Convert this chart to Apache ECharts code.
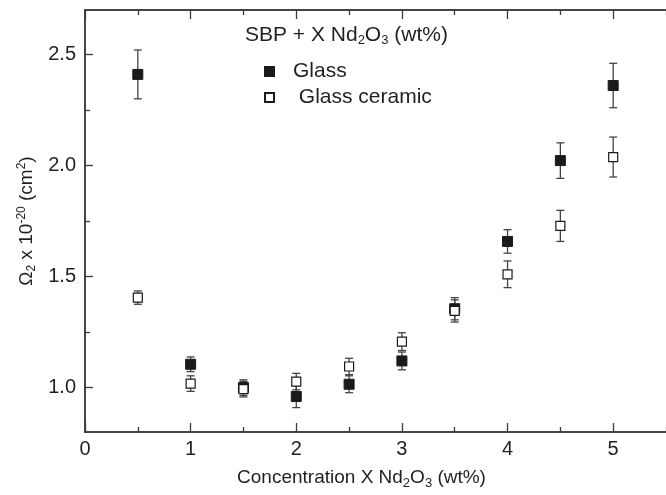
<!DOCTYPE html>
<html><head><meta charset="utf-8">
<script src="https://cdn.jsdelivr.net/npm/echarts@6/dist/echarts.min.js"></script>
<style>html,body{margin:0;padding:0;background:#fff}#c{width:666px;height:495px}</style>
</head><body><div id="c"></div>
<script>
const xVals = [0.5, 1, 1.5, 2, 2.5, 3, 3.5, 4, 4.5, 5];
const glassVals = [2.41, 1.105, 1.00, 0.96, 1.015, 1.12, 1.355, 1.658, 2.022, 2.36];
const glassErr = [0.11, 0.033, 0.035, 0.05, 0.038, 0.04, 0.05, 0.053, 0.08, 0.10];
const gcVals = [1.405, 1.018, 0.993, 1.027, 1.095, 1.207, 1.345, 1.51, 1.728, 2.038];
const gcErr = [0.03, 0.035, 0.035, 0.037, 0.037, 0.04, 0.05, 0.06, 0.07, 0.09];
const xMajorTicks = [0, 1, 2, 3, 4, 5];
const xMinorTicks = [0.5, 1.5, 2.5, 3.5, 4.5, 5.5];
const yMajorTicks = [1.0, 1.5, 2.0, 2.5];
const yMinorTicks = [1.25, 1.75, 2.25];

const txt = '#231f20';
const axisCol = '#3a3a3a';
const font = 'Liberation Sans, Arial, sans-serif';
const sub = {fontSize: 13, fontFamily: font, color: txt, padding: [11, 0, 0, 0]};
const sup = {fontSize: 12, fontFamily: font, color: txt, padding: [0, 0, 10, 0]};

function xAxisDef(pos, ticks, len, showLabel, extra) {
  return Object.assign({
    type: 'value', position: pos, min: 0, max: 5.5,
    axisLine: {show: true, onZero: false, lineStyle: {color: axisCol, width: 1.5}},
    axisTick: {show: true, inside: true, length: len, customValues: ticks, lineStyle: {color: axisCol, width: 1.3}},
    axisLabel: {show: showLabel, customValues: ticks, fontSize: 20, fontFamily: font, color: txt, margin: 7},
    splitLine: {show: false}
  }, extra || {});
}
function yAxisDef(ticks, len, showLabel, extra) {
  return Object.assign({
    type: 'value', position: 'left', min: 0.8, max: 2.7,
    axisLine: {show: true, onZero: false, lineStyle: {color: axisCol, width: 1.5}},
    axisTick: {show: true, inside: true, length: len, customValues: ticks, lineStyle: {color: axisCol, width: 1.3}},
    axisLabel: {show: showLabel, customValues: ticks, fontSize: 20, fontFamily: font, color: txt, margin: 9,
      formatter: v => v.toFixed(1)},
    splitLine: {show: false}
  }, extra || {});
}

function errData(vals, errs) { return xVals.map((x, i) => [x, vals[i], errs[i]]); }
function errRender(params, api) {
  const x = api.value(0), y = api.value(1), e = api.value(2);
  const t = api.coord([x, y + e]), b = api.coord([x, y - e]);
  const w = 4;
  const st = {stroke: '#444', lineWidth: 1.3};
  return {type: 'group', children: [
    {type: 'line', shape: {x1: t[0], y1: t[1], x2: b[0], y2: b[1]}, style: st},
    {type: 'line', shape: {x1: t[0] - w, y1: t[1], x2: t[0] + w, y2: t[1]}, style: st},
    {type: 'line', shape: {x1: b[0] - w, y1: b[1], x2: b[0] + w, y2: b[1]}, style: st}
  ]};
}

const chart = echarts.init(document.getElementById('c'), null, {renderer: 'canvas'});
chart.setOption({
  animation: false,
  backgroundColor: '#fff',
  textStyle: {fontFamily: font},
  title: {
    text: 'SBP + X Nd{sub|2}O{sub|3} (wt%)',
    left: 240, top: 18,
    textStyle: {fontSize: 21, fontWeight: 'normal', fontFamily: font, color: txt, rich: {sub: sub}}
  },
  legend: {
    orient: 'vertical', left: 259, top: 56, itemWidth: 9, itemHeight: 9, itemGap: 5,
    data: [{name: 'Glass', icon: 'rect'}, {name: ' Glass ceramic', icon: 'rect'}],
    textStyle: {fontSize: 21, fontFamily: font, color: txt, padding: [0, 0, 0, 14]}
  },
  grid: {left: 85, right: -3, top: 10, bottom: 63, containLabel: false},
  xAxis: [
    xAxisDef('bottom', xMajorTicks, 9, true, {
      name: 'Concentration X Nd{sub|2}O{sub|3} (wt%)', nameLocation: 'middle', nameGap: 34,
      nameTextStyle: {fontSize: 19, fontFamily: font, color: txt, padding: [0, 28, 0, 0],
        rich: {sub: Object.assign({}, sub, {fontSize: 13})}}
    }),
    xAxisDef('bottom', xMinorTicks, 5, false),
    xAxisDef('top', xMajorTicks, 9, false),
    xAxisDef('top', xMinorTicks, 5, false)
  ],
  yAxis: [
    yAxisDef(yMajorTicks, 8, true, {
      name: 'Ω{sub|2} x 10{sup|-20} (cm{sup|2})', nameLocation: 'middle', nameGap: 31, nameRotate: 90,
      nameTextStyle: {fontSize: 19, fontFamily: font, color: txt, rich: {sub: Object.assign({}, sub, {fontSize: 12, padding: [10, 0, 0, 0]}), sup: sup}}
    }),
    yAxisDef(yMinorTicks, 5, false)
  ],
  series: [
    {type: 'custom', name: 'errG', renderItem: errRender, data: errData(glassVals, glassErr), z: 1, silent: true},
    {type: 'custom', name: 'errGC', renderItem: errRender, data: errData(gcVals, gcErr), z: 1, silent: true},
    {type: 'scatter', name: 'Glass', symbol: 'rect', symbolSize: 10, z: 3,
      itemStyle: {color: '#1a1a1a', borderColor: '#1a1a1a', borderWidth: 1, opacity: 1},
      data: xVals.map((x, i) => [x, glassVals[i]])},
    {type: 'scatter', name: ' Glass ceramic', symbol: 'rect', symbolSize: 9, z: 3,
      itemStyle: {color: '#fff', borderColor: '#1a1a1a', borderWidth: 1.2, opacity: 1},
      data: xVals.map((x, i) => [x, gcVals[i]])}
  ]
});
</script></body></html>
